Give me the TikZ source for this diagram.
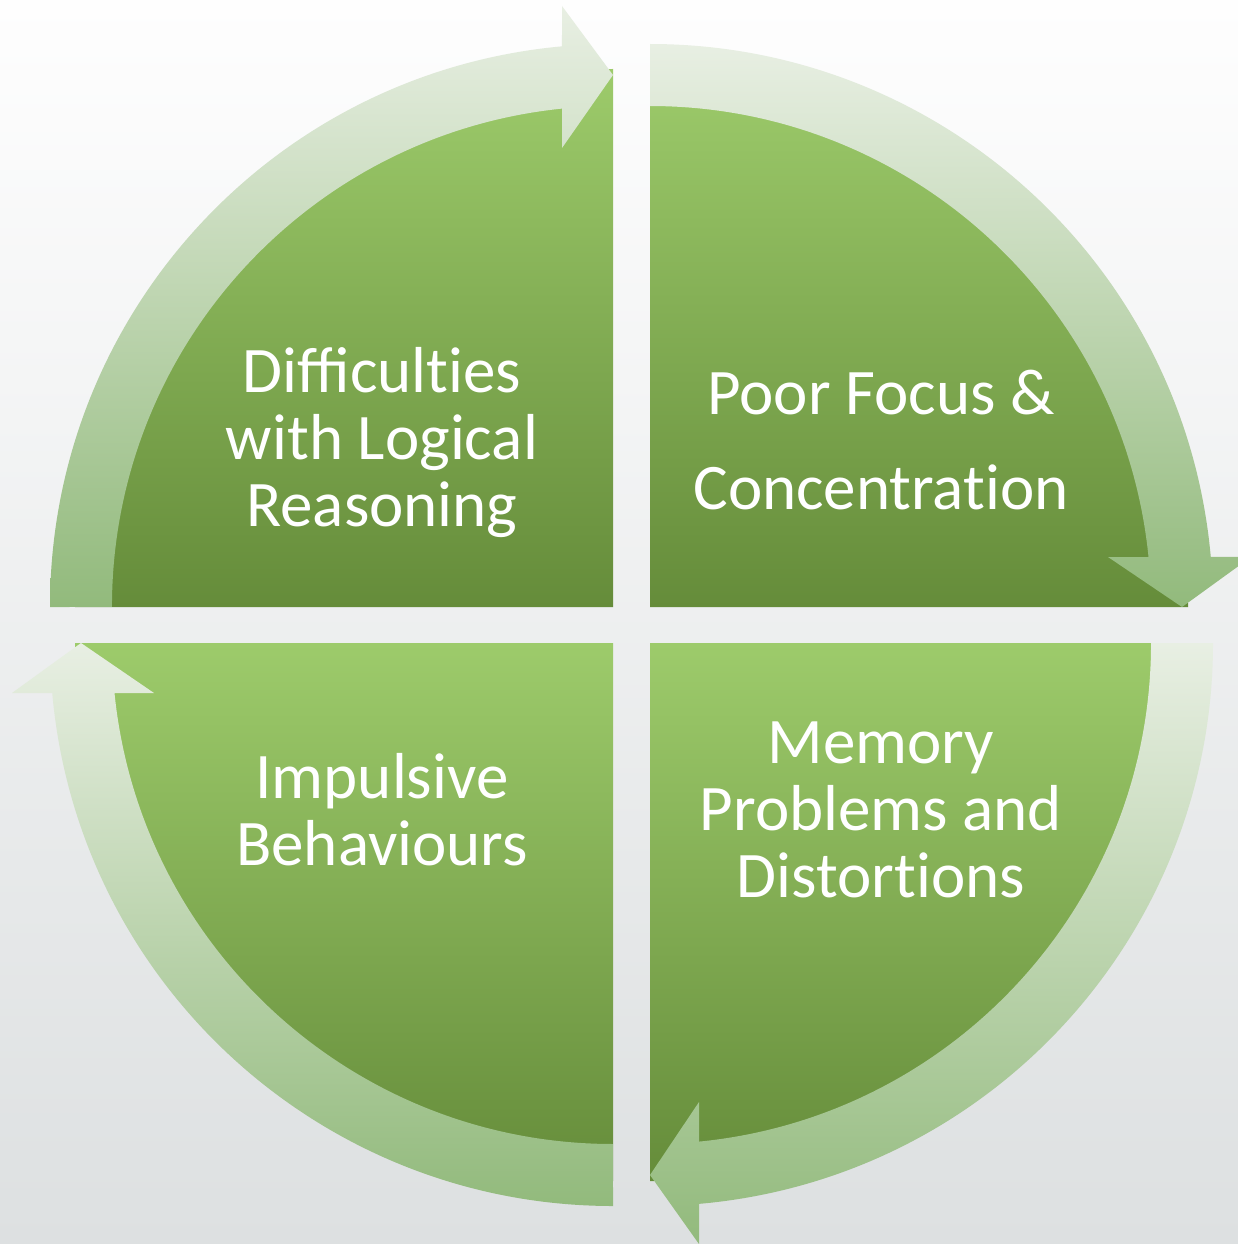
\documentclass[tikz,border=0pt]{standalone}
\usepackage{fontspec}
\setmainfont{Carlito}
\definecolor{qtop}{HTML}{9DCB6B}
\definecolor{qbot}{HTML}{658C3A}
\definecolor{atop}{HTML}{E8EFE3}
\definecolor{abot}{HTML}{92BA7C}
\definecolor{bgtop}{HTML}{FEFEFE}
\definecolor{bgmid}{HTML}{F0F2F2}
\definecolor{bgbot}{HTML}{DDE0E1}
\newcommand{\noti}{t\kern0pt i}
\tikzset{
  quad/.style={top color=qtop, bottom color=qbot, draw=none},
  arr/.style={top color=atop, bottom color=abot, draw=none},
  lbl/.style={text=white, align=center, inner sep=0pt, font=\fontsize{65}{67}\selectfont}
}
\begin{document}
\begin{tikzpicture}[x=1pt,y=-1pt]
\useasboundingbox (0,0) rectangle (1238,1244);
\shade[top color=bgtop, middle color=bgmid, bottom color=bgbot] (0,0) rectangle (1238,1244);
% quadrants
\path[quad] (613,607) -- (75,607) arc[start angle=180,end angle=270,radius=538] -- cycle;
\path[quad] (650,607) -- (650,69) arc[start angle=270,end angle=360,radius=538] -- cycle;
\path[quad] (650,643) -- (1188,643) arc[start angle=0,end angle=90,radius=538] -- cycle;
\path[quad] (613,643) -- (613,1181) arc[start angle=90,end angle=180,radius=538] -- cycle;
% circular arrows
\path[arr] (50,607) arc[start angle=180,end angle=264.8,radius=563] -- (562,6) -- (613,75) -- (562,148) -- (562,108.6) arc[start angle=264.16,end angle=180,radius=501] -- cycle;
\path[arr] (650,44) arc[start angle=270,end angle=354.9,radius=563] -- (1251,557) -- (1182,607) -- (1108,557) -- (1148.5,557) arc[start angle=354.27,end angle=270,radius=501] -- cycle;
\path[arr] (1213,643) arc[start angle=0,end angle=85.0,radius=563] -- (699,1244) -- (650,1175) -- (699,1102) -- (699,1141.6) arc[start angle=84.39,end angle=0,radius=501] -- cycle;
\path[arr] (613,1206) arc[start angle=90,end angle=174.9,radius=563] -- (12,693) -- (81,643) -- (154,693) -- (114.5,693) arc[start angle=174.27,end angle=90,radius=501] -- cycle;
% labels
\node[lbl] (t1) at (382,443) {Difficul\noti es\\with Logical\\Reasoning};
\node[lbl, font=\fontsize{65}{95}\selectfont] (t2) at (881,440) {Poor Focus \&\\Concentra\noti on};
\node[lbl] (t3) at (881,810) {Memory\\Problems and\\Distor\noti ons};
\node[lbl] (t4) at (382,810) {Impulsive\\Behaviours};
\end{tikzpicture}
\end{document}
